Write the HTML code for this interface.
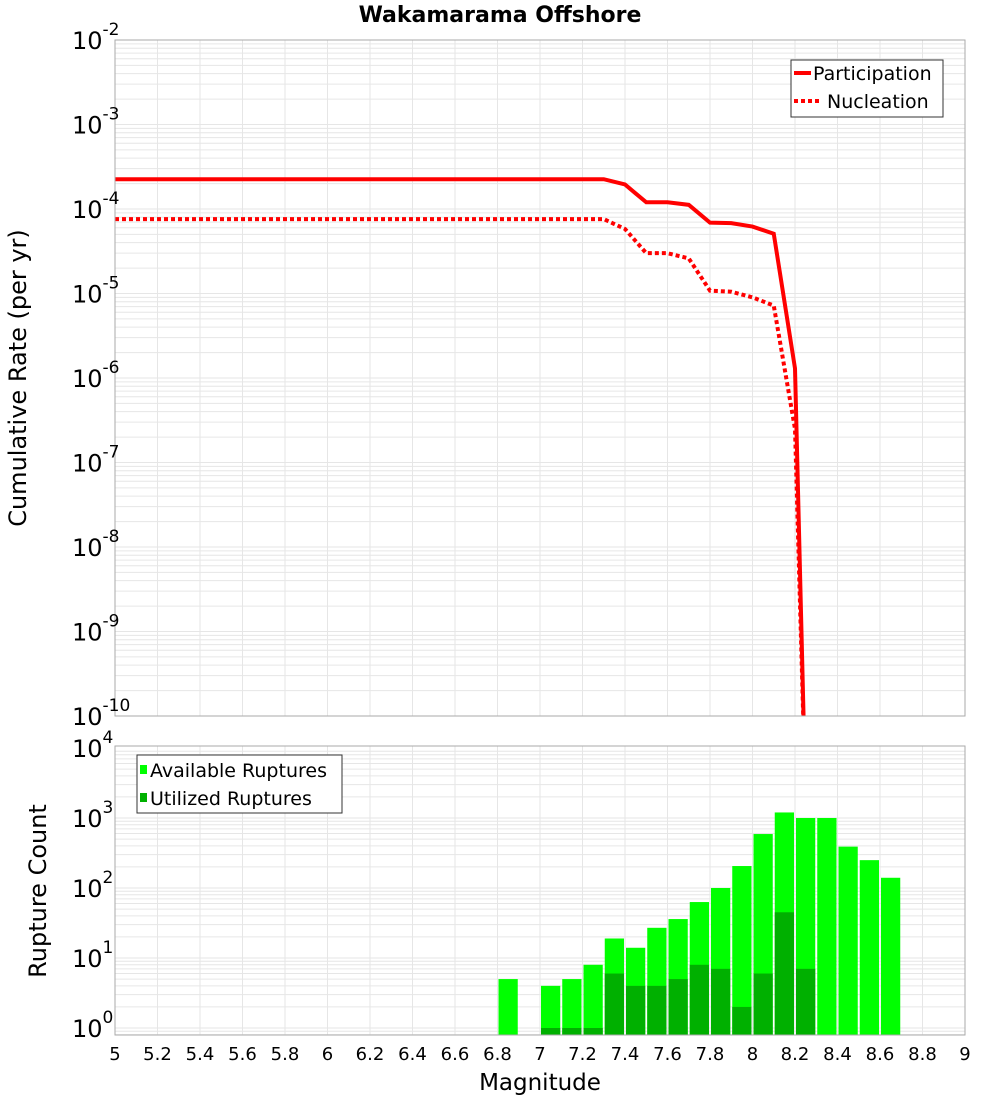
<!DOCTYPE html>
<html><head><meta charset="utf-8"><style>
body{margin:0;background:#fff;}
svg text{font-family:"DejaVu Sans","Liberation Sans",sans-serif;}
</style></head><body>
<svg id="chart" width="1000" height="1100" xmlns="http://www.w3.org/2000/svg" style="position:absolute;left:0;top:0">
<text x="500" y="22" text-anchor="middle" font-size="22" font-weight="bold">Wakamarama Offshore</text>
<g id="gtop"></g><g id="gbot"></g>
</svg>
<script>
const ratesMag = [5.0,7.3,7.4,7.5,7.6,7.7,7.8,7.9,8.0,8.1,8.2,8.25];
const participation = [2.25e-4,2.25e-4,1.95e-4,1.2e-4,1.2e-4,1.12e-4,6.9e-5,6.8e-5,6.2e-5,5.1e-5,1.3e-6,1e-11];
const nucleation = [7.6e-5,7.6e-5,5.8e-5,3.0e-5,3.0e-5,2.6e-5,1.08e-5,1.05e-5,9.0e-6,7.2e-6,2.5e-7,1e-11];
const barMag = [6.8,7.0,7.1,7.2,7.3,7.4,7.5,7.6,7.7,7.8,7.9,8.0,8.1,8.2,8.3,8.4,8.5,8.6];
const available = [5,4,5,8,19,14,27,36,63,100,206,590,1200,1000,1000,390,250,140];
const utilized = [0,1,1,1,6,4,4,5,8,7,2,6,45,7,0,0,0,0];
const xTicks = [5,5.2,5.4,5.6,5.8,6,6.2,6.4,6.6,6.8,7,7.2,7.4,7.6,7.8,8,8.2,8.4,8.6,8.8,9];
const topExp = [-2,-3,-4,-5,-6,-7,-8,-9,-10];
const botExp = [4,3,2,1,0];

const NS="http://www.w3.org/2000/svg";
const L=115,R=965;
const x=m=>L+(m-5)/4*(R-L);
const T1=40,B1=716, yTop=v=>T1+(-2-Math.log10(v))*(B1-T1)/8;
const T2=746,B2=1035, yBot=v=>748+(4-Math.log10(v))*70;
function el(p,tag,attrs){const e=document.createElementNS(NS,tag);for(const k in attrs)e.setAttribute(k,attrs[k]);p.appendChild(e);return e;}
const gTop=document.getElementById('gtop'), gBot=document.getElementById('gbot');
const svgRoot=document.getElementById('chart');
const defs=el(svgRoot,'defs',{});
const c1=el(defs,'clipPath',{id:'c1'});el(c1,'rect',{x:L,y:T1,width:R-L,height:B1-T1});
const c2=el(defs,'clipPath',{id:'c2'});el(c2,'rect',{x:L,y:T2,width:R-L,height:B2-T2});

function grid(g,T,B,yf,lo,hi){
  for(let m=5;m<=9.001;m+=0.2){const l=el(g,'line',{x1:x(m),x2:x(m),y1:T,y2:B,stroke:'#e6e6e6','stroke-width':1});
    
    }
  for(let e=lo;e<hi;e++)for(let k=1;k<10;k++){const yy=yf(k*Math.pow(10,e));if(yy<T||yy>B)continue;
    const l=el(g,'line',{x1:L,x2:R,y1:yy,y2:yy,stroke:'#e6e6e6','stroke-width':1});
    
    }
}
grid(gTop,T1,B1,yTop,-10,-2);
grid(gBot,T2,B2,yBot,-1,4);

const gl=el(gTop,'g',{'clip-path':'url(#c1)'});
function line(vals,dash,name){const p=el(gl,'polyline',{points:ratesMag.map((m,i)=>x(m)+','+yTop(vals[i])).join(' '),fill:'none',stroke:'#ff0000','stroke-width':4});
  if(dash)p.setAttribute('stroke-dasharray','4,3');
  
  }
line(participation,false,'participation-line');
line(nucleation,true,'nucleation-line');
const f1=el(gTop,'rect',{x:L,y:T1,width:R-L,height:B1-T1,fill:'none',stroke:'#aaa','stroke-width':1});



const gb=el(gBot,'g',{'clip-path':'url(#c2)'});
const bw=x(5.1)-x(5);
barMag.forEach((m,i)=>{
  const ya=yBot(available[i]);
  const r=el(gb,'rect',{x:x(m)+1,y:ya,width:bw-2,height:B2-ya,fill:'#00ff00'});
  
  
  if(utilized[i]>0){const yu=yBot(utilized[i]);
    const u=el(gb,'rect',{x:x(m)+1,y:yu,width:bw-2,height:B2-yu,fill:'#00b000'});
    
    }
});
const f2=el(gBot,'rect',{x:L,y:T2,width:R-L,height:B2-T2,fill:'none',stroke:'#aaa','stroke-width':1});



function ylab(g,yy,e){const t=el(g,'text',{x:72,y:yy+9,'font-size':24});
  
  
  t.textContent='10';const s=el(t,'tspan',{dy:-14,'font-size':17});s.textContent=String(e);}
topExp.forEach(e=>ylab(gTop,yTop(Math.pow(10,e)),e));
botExp.forEach(e=>ylab(gBot,yBot(Math.pow(10,e)),e));
xTicks.forEach(m=>{const t=el(gBot,'text',{x:x(m),y:1060,'text-anchor':'middle','font-size':18});
  
  
  t.textContent=String(m);});
</script>
<svg style="position:absolute;left:0;top:0" width="1000" height="1100" xmlns="http://www.w3.org/2000/svg">
<text transform="translate(26,378) rotate(-90)" text-anchor="middle" font-size="24" font-family="DejaVu Sans, Liberation Sans, sans-serif">Cumulative Rate (per yr)</text>
<text transform="translate(46,891) rotate(-90)" text-anchor="middle" font-size="24" font-family="DejaVu Sans, Liberation Sans, sans-serif">Rupture Count</text>
<text x="540" y="1090" text-anchor="middle" font-size="23" font-family="DejaVu Sans, Liberation Sans, sans-serif">Magnitude</text>
<g font-family="DejaVu Sans, Liberation Sans, sans-serif" font-size="19">
<rect x="791" y="60" width="152" height="57" fill="#fff" stroke="#333"/>
<line x1="794" y1="73" x2="811" y2="73" stroke="#f00" stroke-width="4"/>
<text x="813" y="80">Participation</text>
<line x1="794" y1="101" x2="822" y2="101" stroke="#f00" stroke-width="4" stroke-dasharray="4,3"/>
<text x="827" y="108">Nucleation</text>
</g>
<g font-family="DejaVu Sans, Liberation Sans, sans-serif" font-size="19">
<rect x="137" y="755" width="205" height="58" fill="#fff" stroke="#333"/>
<rect x="140" y="765" width="7" height="9" fill="#00ff00"/>
<text x="150" y="777">Available Ruptures</text>
<rect x="140" y="793" width="7" height="9" fill="#00b000"/>
<text x="150" y="805">Utilized Ruptures</text>
</g>
</svg>
</body></html>
